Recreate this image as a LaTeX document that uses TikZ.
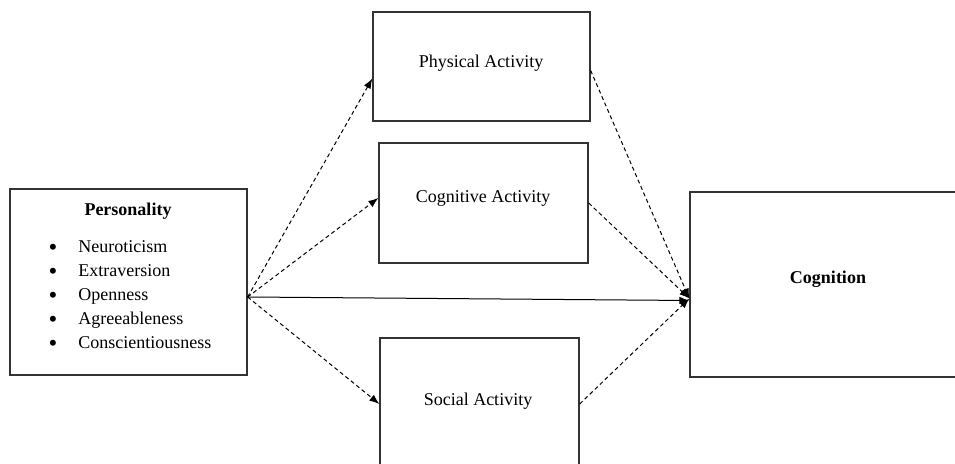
\documentclass[tikz,border=0pt]{standalone}
\usepackage{fontspec}
\setmainfont{Liberation Serif}
\usetikzlibrary{arrows.meta,calc}

\tikzset{
  box/.style={draw=black!80, line width=0.8pt, inner sep=0pt},
  lbl/.style={font=\fontsize{10.8}{13}\selectfont, inner sep=0pt},
  dotlbl/.style={font=\fontsize{15}{15}\selectfont, inner sep=0pt},
  link/.style={line width=0.6pt, -{Latex[length=6pt,width=4.5pt]}},
  indirect/.style={link, dash pattern=on 2.4pt off 1.8pt},
}

\begin{document}
\begin{tikzpicture}[x=0.6pt,y=-0.6pt]
\clip (0,0) rectangle (955,464);

% boxes
\node[box, minimum width=142.2pt, minimum height=111.6pt] (pers) at (128.5,282) {};
\node[box, minimum width=130.2pt, minimum height=65.4pt] (phys) at (481.5,66.5) {};
\node[box, minimum width=125.4pt, minimum height=72pt] (cogact) at (483.5,203) {};
\node[box, minimum width=119.4pt, minimum height=79.2pt] (social) at (479.5,404) {};
\node[box, minimum width=165.6pt, minimum height=111pt] (cog) at (828,284.5) {};

% texts
\node[lbl, anchor=base] (perstitle) at (128,215.5) {\textbf{Personality}};
\foreach \trait [count=\i from 0] in {Neuroticism,Extraversion,Openness,Agreeableness,Conscientiousness}{
  \node[dotlbl, anchor=base] (dot\i) at (53,256+24*\i) {\textbullet};
  \node[lbl, anchor=base west] (trait\i) at (78,253+24*\i) {\trait};
}
\node[lbl, anchor=base] (physlbl) at (481,68) {Physical Activity};
\node[lbl, anchor=base] (cogactlbl) at (483,203) {Cognitive Activity};
\node[lbl, anchor=base] (sociallbl) at (478,406) {Social Activity};
\node[lbl, anchor=base] (coglbl) at (828,284) {\textbf{Cognition}};

% connectors
\coordinate (src) at ($(pers.east)+(0,15)$);
\coordinate (tgt) at ($(cog.west)+(0,14)$);
\draw[link] (src) -- ($(cog.west)+(0,16)$);
\draw[indirect] (src) -- ($(phys.west)+(0,12)$);
\draw[indirect] (src) -- ($(cogact.west)+(0,-5)$);
\draw[indirect] (src) -- (social.west);
\draw[indirect] ($(phys.east)+(0,4)$) -- (tgt);
\draw[indirect] (cogact.east) -- (tgt);
\draw[indirect] (social.east) -- (tgt);
\end{tikzpicture}
\end{document}
